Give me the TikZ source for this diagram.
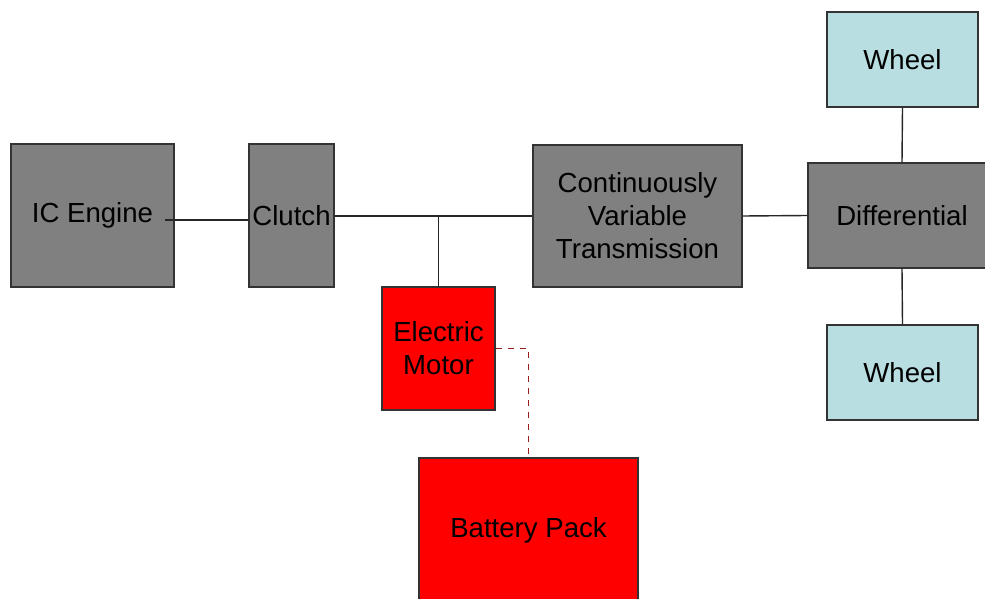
\documentclass[tikz,border=0pt]{standalone}
\usepackage{fontspec}
\setmainfont{Liberation Sans}
\usetikzlibrary{calc}

\definecolor{boxgray}{RGB}{128,128,128}
\definecolor{boxred}{RGB}{255,0,0}
\definecolor{wheelblue}{RGB}{184,222,226}
\definecolor{linkred}{RGB}{150,30,30}

\tikzset{
  unit/.style={draw=black!80, line width=0.7pt, inner sep=0pt, align=center,
    font=\fontsize{13.8}{16.5}\selectfont},
  gearbox/.style={unit, fill=boxgray},
  powerbox/.style={unit, fill=boxred},
  wheelbox/.style={unit, fill=wheelblue},
  shaft/.style={draw=black!85, line width=0.7pt},
  wire/.style={draw=linkred, line width=0.7pt, dashed}
}

\begin{document}
\begin{tikzpicture}[x=0.5pt,y=-0.5pt]

% Frame of the picture
\clip (0,0) rectangle (985,599);

% Driveline
\node[gearbox, minimum width=81.5pt, minimum height=71.5pt] (engine) at (92.5,215.5) {IC Engine};
\node[gearbox, minimum width=42.5pt, minimum height=71.5pt] (clutch) at (291.5,215.5) {Clutch};
\node[gearbox, minimum width=104.5pt, minimum height=71pt] (cvt) at (637.5,216) {Continuously\\Variable\\Transmission};
\node[gearbox, minimum width=94pt, minimum height=52.5pt] (diff) at (902,215.5) {Differential};

% Wheels
\node[wheelbox, minimum width=75.5pt, minimum height=47.5pt] (wheeltop) at (902.5,59.5) {Wheel};
\node[wheelbox, minimum width=75.5pt, minimum height=47.5pt] (wheelbot) at (902.5,372.5) {Wheel};

% Electric side
\node[powerbox, minimum width=56.5pt, minimum height=61.5pt] (motor) at (438.5,348.5) {Electric\\Motor};
\node[powerbox, minimum width=109.5pt, minimum height=72pt] (battery) at (528.5,530) {Battery Pack};

% Connections
\coordinate (engineout) at ([xshift=-5pt,yshift=-2.25pt]engine.east);
\coordinate (join) at (motor.north |- cvt.west);
\draw[shaft] (engineout) -- (engineout -| clutch.west);
\draw[shaft] (cvt.west -| clutch.east) -- (cvt.west);
\draw[shaft] (join) -- (motor.north);
\draw[shaft] (cvt.east) -- (diff.west);
\draw[shaft] (diff.north) -- (wheeltop.south);
\draw[shaft] (diff.south) -- (wheelbot.north);
\draw[wire] (motor.east) -| (battery.north);

\end{tikzpicture}
\end{document}
